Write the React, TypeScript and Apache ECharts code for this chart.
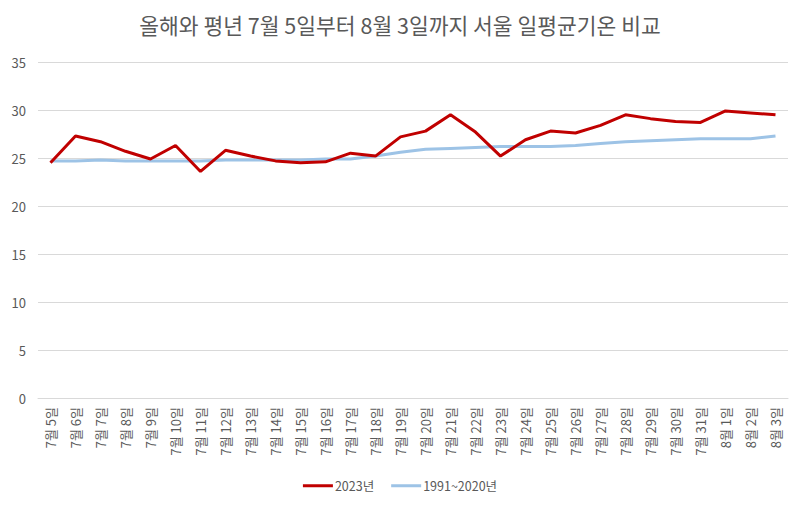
import React, { useEffect, useRef } from "react";
import * as echarts from "echarts";

const categories = [
  "7월 5일", "7월 6일", "7월 7일", "7월 8일", "7월 9일", "7월 10일", "7월 11일", "7월 12일",
  "7월 13일", "7월 14일", "7월 15일", "7월 16일", "7월 17일", "7월 18일", "7월 19일", "7월 20일",
  "7월 21일", "7월 22일", "7월 23일", "7월 24일", "7월 25일", "7월 26일", "7월 27일", "7월 28일",
  "7월 29일", "7월 30일", "7월 31일", "8월 1일", "8월 2일", "8월 3일",
];

const temps2023 = [
  24.5, 27.3, 26.7, 25.7, 24.9, 26.3, 23.6, 25.8, 25.2, 24.7, 24.5, 24.6, 25.5, 25.2, 27.2,
  27.8, 29.5, 27.7, 25.2, 26.9, 27.8, 27.6, 28.4, 29.5, 29.1, 28.8, 28.7, 29.9, 29.7, 29.5,
];

const normal19912020 = [
  24.7, 24.7, 24.8, 24.7, 24.7, 24.7, 24.7, 24.8, 24.8, 24.8, 24.8, 24.9, 24.9, 25.2, 25.6,
  25.9, 26.0, 26.1, 26.2, 26.2, 26.2, 26.3, 26.5, 26.7, 26.8, 26.9, 27.0, 27.0, 27.0, 27.3,
];

const seriesNames = ["2023년", "1991~2020년"];
const titleText = "올해와 평년 7월 5일부터 8월 3일까지 서울 일평균기온 비교";

const FONT = "'Noto Sans CJK KR', 'Noto Sans', sans-serif";

export default function App() {
  const ref = useRef<HTMLDivElement>(null);
  useEffect(() => {
    if (!ref.current) return;
    const chart = echarts.init(ref.current, null, { renderer: "svg" });
    chart.setOption({
      animation: false,
      backgroundColor: "#ffffff",
      textStyle: { fontFamily: FONT },
      title: {
        text: titleText,
        left: "center",
        top: 9,
        textStyle: { fontFamily: FONT, fontSize: 21.5, fontWeight: "normal", color: "#595959" },
      },
      legend: {
        bottom: 8,
        left: "center",
        icon: "rect",
        itemWidth: 30,
        itemHeight: 3,
        itemGap: 17,
        textStyle: { fontFamily: FONT, fontSize: 12.5, color: "#595959", padding: [0, 0, 0, -3] },
        data: seriesNames,
      },
      grid: { left: 38, right: 12, top: 62, bottom: 107, containLabel: false },
      xAxis: {
        type: "category",
        data: categories,
        boundaryGap: true,
        axisLine: { lineStyle: { color: "#d9d9d9" } },
        axisTick: { show: false },
        axisLabel: {
          rotate: 90,
          interval: 0,
          fontFamily: FONT,
          fontSize: 13,
          color: "#595959",
          margin: 9,
        },
      },
      yAxis: {
        type: "value",
        min: 0,
        max: 35,
        interval: 5,
        axisLine: { show: false },
        axisTick: { show: false },
        axisLabel: { fontFamily: FONT, fontSize: 13, color: "#595959", margin: 12 },
        splitLine: { lineStyle: { color: "#d9d9d9" } },
      },
      series: [
        {
          name: seriesNames[0],
          type: "line",
          data: temps2023,
          symbol: "none",
          lineStyle: { color: "#C00000", width: 3 },
          itemStyle: { color: "#C00000" },
          z: 3,
        },
        {
          name: seriesNames[1],
          type: "line",
          data: normal19912020,
          symbol: "none",
          lineStyle: { color: "#9DC3E6", width: 3 },
          itemStyle: { color: "#9DC3E6" },
          z: 2,
        },
      ],
    });
    return () => chart.dispose();
  }, []);
  return (
    <div
      ref={ref}
      style={{ position: "absolute", left: 0, top: 0, width: 800, height: 505 }}
    />
  );
}
